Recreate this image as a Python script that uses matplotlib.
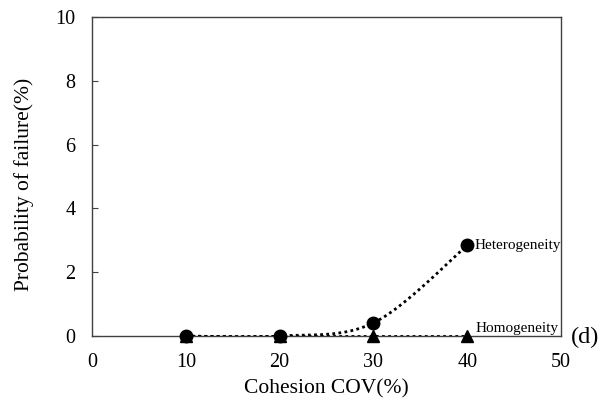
import numpy as np
import matplotlib
matplotlib.use("Agg")
import matplotlib.pyplot as plt

plt.rcParams['font.family'] = ['Liberation Serif', 'DejaVu Serif']

cov = [10, 20, 30, 40]
hetero = [0.0, 0.0, 0.41, 2.84]
homo = [0.0, 0.0, 0.0, 0.0]
xticks = [0, 10, 20, 30, 40, 50]
yticks = [0, 2, 4, 6, 8, 10]


def smooth_curve(xs, ys, n=60):
    """Cubic Bezier smoothing through the points (Catmull-Rom style)."""
    pts = np.column_stack([xs, ys]).astype(float)
    out = []
    m = len(pts)
    for i in range(m - 1):
        p0 = pts[i - 1] if i > 0 else pts[i]
        p1 = pts[i]
        p2 = pts[i + 1]
        p3 = pts[i + 2] if i + 2 < m else pts[i + 1]
        c1 = p1 + (p2 - p0) / 6.0
        c2 = p2 - (p3 - p1) / 6.0
        t = np.linspace(0, 1, n)[:, None]
        seg = ((1 - t) ** 3) * p1 + 3 * ((1 - t) ** 2) * t * c1 \
            + 3 * (1 - t) * t ** 2 * c2 + t ** 3 * p2
        out.append(seg if i == 0 else seg[1:])
    seg = np.vstack(out)
    return seg[:, 0], seg[:, 1]


fig = plt.figure(figsize=(6.05, 4.04), dpi=100)
ax = fig.add_axes([92 / 605, 1 - 336 / 404, (561 - 92) / 605, (336 - 17) / 404])

sx, sy = smooth_curve(cov, hetero)
ax.plot(sx, sy, color='black', lw=2, linestyle=(0, (1, 1.2)), zorder=3)
ax.plot(cov, hetero, 'o', color='black', ms=9, zorder=4, clip_on=False)

ax.plot(cov, homo, color='black', lw=2, linestyle=(0, (1, 1.2)), zorder=3)
ax.plot(cov, homo, '^', color='black', ms=9, zorder=4, clip_on=False)

ax.text(cov[-1] + 0.8, hetero[-1], 'Heterogeneity', fontsize=11,
        va='center', ha='left')
ax.text(49.7, 0.03, 'Homogeneity', fontsize=11, va='bottom', ha='right')

ax.set_xlim(0, 50)
ax.set_ylim(0, 10)
ax.set_xticks(xticks)
ax.set_yticks(yticks)
ax.tick_params(axis='both', labelsize=14.5, colors='black')
ax.tick_params(axis='x', length=0, pad=12)
ax.tick_params(axis='y', direction='in', length=4, pad=12, color='#404040')

for s in ax.spines.values():
    s.set_color('#404040')
    s.set_linewidth(1.0)

ax.set_xlabel('Cohesion COV(%)', fontsize=15.5)
ax.set_ylabel('Probability of failure(%)', fontsize=15.5)
ax.xaxis.set_label_coords(0.5, -(389 - 336) / 319)
ax.xaxis.label.set_va('center')
ax.yaxis.set_label_coords(-(92 - 24) / 469, (336 - 184) / 319)
ax.yaxis.label.set_va('center')

fig.text(571 / 605, 1 - 337 / 404, '(d)', fontsize=17.5, ha='left', va='center')

fig.savefig('out.png', dpi=100)
